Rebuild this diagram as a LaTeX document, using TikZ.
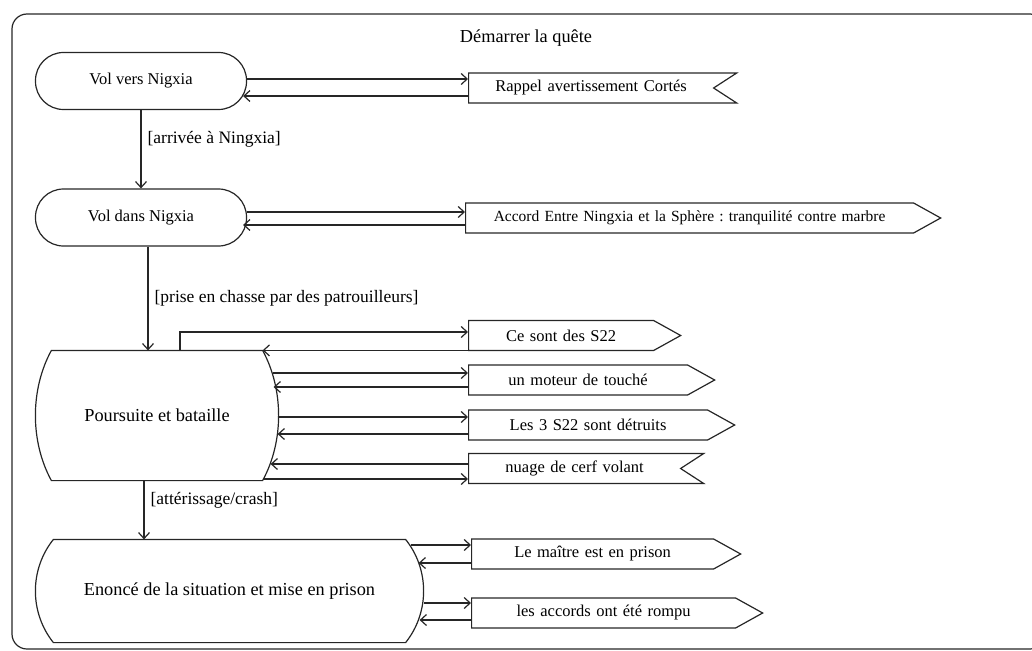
\documentclass[tikz,border=0pt]{standalone}
\usepackage{fontspec}
\setmainfont{Liberation Serif}
\frenchspacing
\usetikzlibrary{arrows.meta,shapes.symbols}

\begin{document}
\begin{tikzpicture}[x=1pt,y=-1pt,line width=1.2pt,draw=black!85,>={Straight Barb[length=6pt,width=11pt]},
  font=\fontsize{16.5}{19}\selectfont,
  act/.style={draw,rounded corners=28pt,minimum width=211pt,minimum height=57pt},
  big/.style={font=\fontsize{18.3}{21}\selectfont},
  send/.style={draw,signal,signal to=east,signal pointer angle=58,minimum height=30pt,inner xsep=0pt,text width=#1,align=center,anchor=west},
  recv/.style={draw,signal,signal to=nowhere,signal from=east,signal pointer angle=66,minimum height=30pt,inner xsep=0pt,text width=#1,align=center,anchor=west},
  guard/.style={right,inner sep=6pt,font=\fontsize{17.5}{20}\selectfont}]
\useasboundingbox (0,0) rectangle (1032,650);\clip (0,0) rectangle (1032,650);
\draw[rounded corners=15pt] (12,14) rectangle (1045,649);
\node[big] (tt) at (526,38) {Démarrer la quête};
% activities
\node[act] (vv) at (141,81) {Vol vers Nigxia};
\node[act] (vd) at (141,217.5) {Vol dans Nigxia};
\node[big,minimum width=242pt,minimum height=129pt] (pb) at (157,415.5) {Poursuite et bataille};
\node[big,minimum width=387pt,minimum height=102pt] (es) at (229.5,591) {Enoncé de la situation et mise en prison};
\foreach \n/\d/\h in {pb/16/39,es/18/30} {\draw ([xshift=\d pt]\n.north west) -- ([xshift=-\d pt]\n.north east)
  .. controls ([xshift=\d/3*1pt,yshift=-\h pt]\n.north east) and ([xshift=\d/3*1pt,yshift=\h pt]\n.south east) .. ([xshift=-\d pt]\n.south east)
  -- ([xshift=\d pt]\n.south west)
  .. controls ([xshift=-\d/3*1pt,yshift=\h pt]\n.south west) and ([xshift=-\d/3*1pt,yshift=-\h pt]\n.north west) .. cycle;}
% signals
\node[recv=245pt] (rap) at (468,88) {Rappel avertissement Cortés};
\node[send=448pt,font=\fontsize{15.5}{18}\selectfont] (acc) at (465,218) {Accord Entre Ningxia et la Sphère : tranquilité contre marbre};
\node[send=185pt] (s22) at (468,335.5) {Ce sont des S22};
\node[send=219pt] (mot) at (468,380) {un moteur de touché};
\node[send=239pt] (det) at (468,425) {Les 3 S22 sont détruits};
\node[recv=212pt] (nua) at (468,468.5) {nuage de cerf volant};
\node[send=242pt] (mai) at (471,554) {Le maître est en prison};
\node[send=264pt] (rom) at (471,613) {les accords ont été rompu};
% transitions
\draw[->] (vv) -- (vd) node[guard,pos=0.37] {[arrivée à Ningxia]};
\draw[->] ([xshift=7pt]vd.south) -- ([xshift=7pt]vd.south |- pb.north) node[guard,midway] {[prise en chasse par des patrouilleurs]};
\draw[->] ([xshift=-13pt]pb.south) -- ([xshift=-13pt]pb.south |- es.north) node[guard,pos=0.33] {[attérissage/crash]};
\draw[->] ([xshift=23pt]pb.north) |- ([yshift=3.5pt]s22.west);
\draw[->,shorten >=-16pt] (s22.west |- pb.north) -- (pb.north east);
\foreach \b/\s/\o/\i/\so/\si in {rap/vv/9/-8/0/4,acc/vd/6/-7/0/4,mot/pb/7/-7/6/5,det/pb/8/-9/1/1,nua/pb/-10.5/4.5/16/8,mai/es/9/-9/13/5,rom/es/10/-7/0/4}
{\draw[->,shorten <=-\so pt] ([yshift=\o pt]\b.west -| \s.east) -- ([yshift=\o pt]\b.west);
 \draw[->,shorten >=-\si pt] ([yshift=\i pt]\b.west) -- ([yshift=\i pt]\b.west -| \s.east);}
\end{tikzpicture}
\end{document}
